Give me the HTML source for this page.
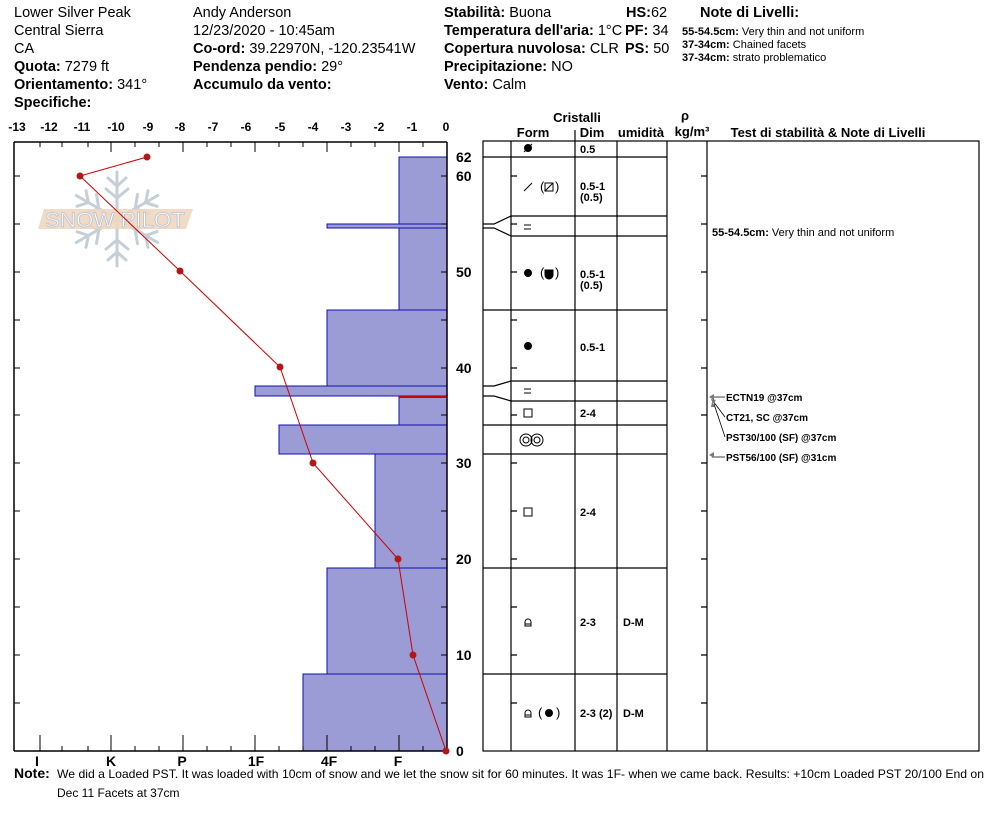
<!DOCTYPE html>
<html><head><meta charset="utf-8"><style>
html,body{margin:0;padding:0;background:#fff}
svg{display:block}
text{font-family:"Liberation Sans",Arial,sans-serif;fill:#000}
.b{font-weight:bold}
</style></head><body>
<svg width="994" height="840" viewBox="0 0 994 840" xmlns="http://www.w3.org/2000/svg">
<g font-size="14.5">
<text x="14" y="17">Lower Silver Peak</text>
<text x="14" y="35">Central Sierra</text>
<text x="14" y="53">CA</text>
<text x="14" y="71"><tspan class="b">Quota:</tspan> 7279 ft</text>
<text x="14" y="89"><tspan class="b">Orientamento:</tspan> 341°</text>
<text x="14" y="107" class="b">Specifiche:</text>
<text x="193" y="17">Andy Anderson</text>
<text x="193" y="35">12/23/2020 - 10:45am</text>
<text x="193" y="53"><tspan class="b">Co-ord:</tspan> 39.22970N, -120.23541W</text>
<text x="193" y="71"><tspan class="b">Pendenza pendio:</tspan> 29°</text>
<text x="193" y="89" class="b">Accumulo da vento:</text>
<text x="444" y="17"><tspan class="b">Stabilità:</tspan> Buona</text>
<text x="444" y="35"><tspan class="b">Temperatura dell'aria:</tspan> 1°C</text>
<text x="444" y="53"><tspan class="b">Copertura nuvolosa:</tspan> CLR</text>
<text x="444" y="71"><tspan class="b">Precipitazione:</tspan> NO</text>
<text x="444" y="89"><tspan class="b">Vento:</tspan>  Calm</text>
<text x="626" y="17"><tspan class="b">HS:</tspan>62</text>
<text x="625" y="35"><tspan class="b">PF:</tspan> 34</text>
<text x="625" y="53"><tspan class="b">PS:</tspan> 50</text>
<text x="700" y="17" class="b">Note di Livelli:</text>
</g>
<g font-size="11">
<text x="682" y="35"><tspan class="b">55-54.5cm:</tspan>  Very thin and not uniform</text>
<text x="682" y="48"><tspan class="b">37-34cm:</tspan>  Chained facets</text>
<text x="682" y="61"><tspan class="b">37-34cm:</tspan> strato problematico</text>
</g>
<g stroke="#c5cfd8" stroke-width="3" fill="none" stroke-linecap="round">
<g id="arm"><line x1="117" y1="219" x2="117" y2="172"/><line x1="117" y1="186" x2="108" y2="178"/><line x1="117" y1="186" x2="126" y2="178"/><line x1="117" y1="198" x2="106" y2="189"/><line x1="117" y1="198" x2="128" y2="189"/></g>
<use href="#arm" transform="rotate(60 117 219)"/><use href="#arm" transform="rotate(120 117 219)"/><use href="#arm" transform="rotate(180 117 219)"/><use href="#arm" transform="rotate(240 117 219)"/><use href="#arm" transform="rotate(300 117 219)"/>
</g>
<polygon points="44,209 193,209 186,229 38,229" fill="#f0d6c0" opacity="0.9"/>
<text x="115" y="227" font-size="21" text-anchor="middle" stroke="#b8c2cc" stroke-width="0.8" style="fill:#fff" textLength="140" lengthAdjust="spacingAndGlyphs">SNOW PILOT</text>
<g fill="#9b9bd5" stroke="#1010b0" stroke-width="1">
<rect x="399" y="157" width="48" height="153"/>
<rect x="327" y="224" width="120" height="4"/>
<rect x="327" y="310" width="120" height="76"/>
<rect x="255" y="386" width="192" height="10"/>
<rect x="399" y="396" width="48" height="29"/>
<rect x="279" y="425" width="168" height="29"/>
<rect x="375" y="454" width="72" height="114"/>
<rect x="327" y="568" width="120" height="106"/>
<rect x="303" y="674" width="144" height="77"/>
</g>
<line x1="399" y1="397" x2="447" y2="397" stroke="#c00" stroke-width="2"/>
<g stroke="#000" stroke-width="1.5" fill="none">
<line x1="14" y1="142" x2="447" y2="142"/>
<line x1="14" y1="751" x2="447" y2="751"/>
<line x1="14" y1="142" x2="14" y2="751"/>
<line x1="447" y1="142" x2="447" y2="751"/>
</g>
<g stroke="#000" stroke-width="1">
<path d="M14 142v8M40 142v5M62 142v5M88 142v5M111 142v10M135 142v5M159 142v5M183 142v10M207 142v5M231 142v5M255 142v10M279 142v5M303 142v5M327 142v10M351 142v5M375 142v5M399 142v10M423 142v5"/>
<path d="M40 751v-16M62 751v-5M88 751v-5M111 751v-16M135 751v-5M159 751v-5M183 751v-16M207 751v-5M231 751v-5M255 751v-16M279 751v-5M303 751v-5M327 751v-16M351 751v-5M375 751v-5M399 751v-16M423 751v-5"/>
<path d="M14 703h6M14 655h6M14 607h6M14 559h6M14 511h6M14 463h6M14 415h6M14 368h6M14 320h6M14 272h6M14 224h6M14 176h6M447 703h-6M447 655h-6M447 607h-6M447 559h-6M447 511h-6M447 463h-6M447 415h-6M447 368h-6M447 320h-6M447 272h-6M447 224h-6M447 176h-6"/>
</g>
<g font-size="12" class="b" text-anchor="middle">
<text x="17" y="131">-13</text><text x="49" y="131">-12</text><text x="82" y="131">-11</text><text x="116" y="131">-10</text><text x="148" y="131">-9</text><text x="180" y="131">-8</text><text x="213" y="131">-7</text><text x="246" y="131">-6</text><text x="280" y="131">-5</text><text x="313" y="131">-4</text><text x="346" y="131">-3</text><text x="379" y="131">-2</text><text x="412" y="131">-1</text><text x="446" y="131">0</text>
</g>
<g font-size="14" class="b" text-anchor="middle">
<text x="37" y="766">I</text><text x="111" y="766">K</text><text x="182" y="766">P</text><text x="256" y="766">1F</text><text x="329" y="766">4F</text><text x="398" y="766">F</text>
</g>
<g font-size="14" class="b">
<text x="456" y="162">62</text><text x="456" y="181">60</text><text x="456" y="277">50</text><text x="456" y="373">40</text><text x="456" y="468">30</text><text x="456" y="564">20</text><text x="456" y="660">10</text><text x="456" y="756">0</text>
</g>
<polyline points="147,157 80,176 180,271 280,367 313,463 398,559 413,655 446,751" fill="none" stroke="#c00" stroke-width="1"/>
<g fill="#b01818"><circle cx="147" cy="157" r="3.5"/><circle cx="80" cy="176" r="3.5"/><circle cx="180" cy="271" r="3.5"/><circle cx="280" cy="367" r="3.5"/><circle cx="313" cy="463" r="3.5"/><circle cx="398" cy="559" r="3.5"/><circle cx="413" cy="655" r="3.5"/><circle cx="446" cy="751" r="3.5"/></g>
<g font-size="13" class="b" text-anchor="middle">
<text x="577" y="122">Cristalli</text><text x="533" y="137">Form</text><text x="592" y="137">Dim</text><text x="641" y="137">umidità</text><text x="685" y="120">ρ</text><text x="692" y="136">kg/m³</text><text x="828" y="137">Test di stabilità &amp; Note di Livelli</text>
</g>
<g stroke="#000" stroke-width="1.2" fill="none">
<rect x="483" y="141" width="496" height="610"/>
<path d="M511 141V751M575 141V751M617 141V751M667 141V751M707 141V751M575 130V141"/>
<path d="M483 157H667M511 216H667M511 236H667M483 310H667M511 381H667M511 401H667M483 425H667M483 454H667M483 568H667M483 674H667"/>
<path d="M483 224H494L511 216M483 228H494L511 236M483 386H494L511 381M483 396H494L511 401"/>
<path d="M511 703h6M511 655h6M511 607h6M511 559h6M511 511h6M511 463h6M511 415h6M511 368h6M511 320h6M511 272h6M511 224h6M511 176h6M707 703h-6M707 655h-6M707 607h-6M707 559h-6M707 511h-6M707 463h-6M707 415h-6M707 368h-6M707 320h-6M707 272h-6M707 224h-6M707 176h-6"/>
</g>
<g font-size="11" class="b">
<text x="580" y="153">0.5</text>
<text x="580" y="190">0.5-1</text><text x="580" y="201">(0.5)</text>
<text x="580" y="278">0.5-1</text><text x="580" y="289">(0.5)</text>
<text x="580" y="351">0.5-1</text>
<text x="580" y="417">2-4</text>
<text x="580" y="516">2-4</text>
<text x="580" y="626">2-3</text><text x="623" y="626">D-M</text>
<text x="580" y="717">2-3 (2)</text><text x="623" y="717">D-M</text>
</g>
<g stroke="#000" fill="none" stroke-width="1">
<circle cx="528" cy="148" r="3.5" fill="#000"/><line x1="524" y1="152" x2="532" y2="144"/>
<line x1="524" y1="191" x2="532" y2="183"/>
<rect x="545" y="183" width="8" height="8"/><line x1="545" y1="191" x2="553" y2="183"/>
<line x1="524" y1="225" x2="531" y2="225"/><line x1="524" y1="229" x2="531" y2="229"/>
<circle cx="528" cy="273" r="3.5" fill="#000"/>
<path d="M545 270v5a4 4 0 0 0 8 0v-5z" fill="#000"/>
<circle cx="528" cy="346" r="3.5" fill="#000"/>
<line x1="524" y1="389" x2="531" y2="389"/><line x1="524" y1="393" x2="531" y2="393"/>
<rect x="524" y="409" width="8" height="8"/>
<circle cx="526" cy="440" r="6"/><circle cx="526" cy="440" r="3"/><circle cx="537" cy="440" r="6"/><circle cx="537" cy="440" r="3"/>
<rect x="524" y="508" width="8" height="8"/>
<path d="M525 626v-4a3 3 0 0 1 6 0v4zM525 624h6"/>
<path d="M525 717v-4a3 3 0 0 1 6 0v4zM525 715h6"/>
<circle cx="549" cy="713" r="3.5" fill="#000"/>
</g>
<g font-size="13"><text x="540" y="191">(</text><text x="555" y="191">)</text><text x="540" y="277">(</text><text x="555" y="277">)</text><text x="538" y="717">(</text><text x="556" y="717">)</text></g>
<text x="712" y="236" font-size="11"><tspan class="b">55-54.5cm:</tspan>  Very thin and not uniform</text>
<g font-size="10" class="b">
<text x="726" y="401">ECTN19 @37cm</text>
<text x="726" y="421">CT21, SC @37cm</text>
<text x="726" y="441">PST30/100 (SF) @37cm</text>
<text x="726" y="461">PST56/100 (SF) @31cm</text>
</g>
<g stroke="#000" stroke-width="0.8" fill="none">
<path d="M725 397H712M725 417L713 401M725 437L714 404M725 457H712"/>
</g>
<g fill="#777"><path d="M709 397l5-3v6z"/><path d="M711 399l5 1-3 4z"/><path d="M712 402l3 5-4 0z"/><path d="M709 455l5-3v6z"/></g>
<text x="14" y="778" font-size="14" class="b">Note:</text>
<text x="57" y="778" font-size="12" textLength="927" lengthAdjust="spacingAndGlyphs">We did a Loaded PST. It was loaded with 10cm of snow and we let the snow sit for 60 minutes. It was 1F- when we came back. Results: +10cm Loaded PST 20/100 End on</text>
<text x="57" y="797" font-size="12">Dec 11 Facets at 37cm</text>
</svg>
</body></html>
